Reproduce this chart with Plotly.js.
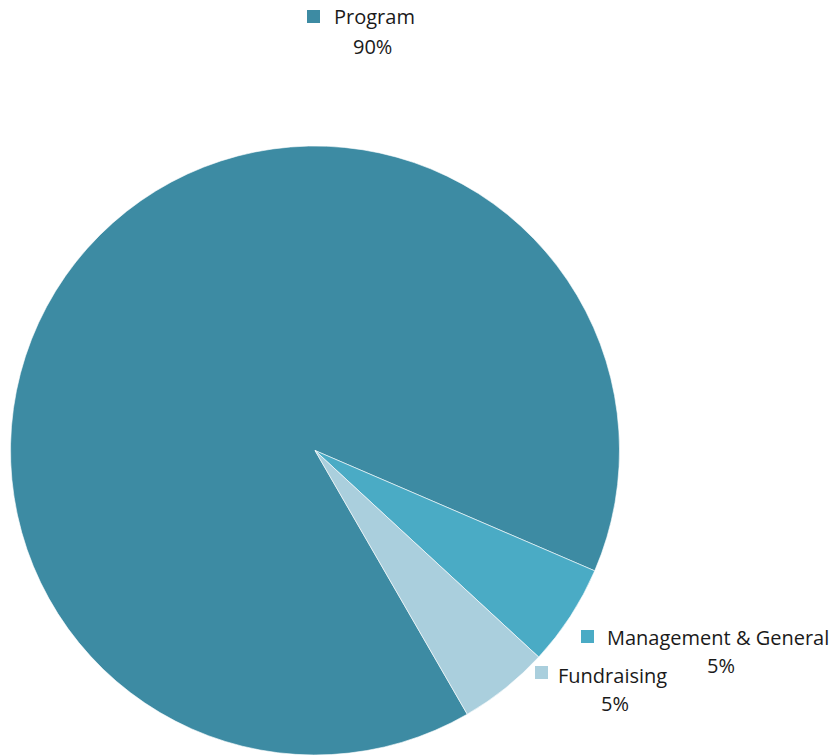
<!DOCTYPE html>
<html>
<head>
<meta charset="utf-8">
<script src="https://cdn.plot.ly/plotly-3.0.1.min.js"></script>
<style>html,body{margin:0;padding:0;background:#fff;}#chart{width:840px;height:755px;}</style>
</head>
<body>
<div id="chart"></div>
<script>
const categories = ["Program", "Management & General", "Fundraising"];
const values = [89.8, 5.4, 4.8];
const sliceColors = ["#3D8BA3", "#4AABC5", "#AACFDD"];

const W = 840, H = 755;
const px = x => x / W;
const py = y => 1 - y / H;

// label placement (pixels): square left/top, name start x, name center y, percent center x/y
const labelPos = [
  {sq: [307, 10], nx: 332, ny: 17, pcx: 372, pcy: 46},
  {sq: [581, 630], nx: 605, ny: 637, pcx: 721, pcy: 665},
  {sq: [535, 666], nx: 556, ny: 675, pcx: 615, pcy: 703}
];

const total = values.reduce((a, b) => a + b, 0);
const font = {family: "Open Sans, Lato, sans-serif", size: 20, color: "#1a1a1a"};

const annotations = [];
const shapes = [];
categories.forEach((c, i) => {
  const p = labelPos[i];
  shapes.push({type: "rect", xref: "paper", yref: "paper",
    x0: px(p.sq[0]), x1: px(p.sq[0] + 13), y0: py(p.sq[1] + 13), y1: py(p.sq[1]),
    fillcolor: sliceColors[i], line: {width: 0}});
  annotations.push({xref: "paper", yref: "paper", x: px(p.nx), y: py(p.ny),
    xanchor: "left", yanchor: "middle", showarrow: false, text: c, font: font});
  annotations.push({xref: "paper", yref: "paper", x: px(p.pcx), y: py(p.pcy),
    xanchor: "center", yanchor: "middle", showarrow: false,
    text: Math.round(values[i] / total * 100) + "%", font: font});
});

const trace = {
  type: "pie",
  labels: categories,
  values: values,
  sort: false,
  direction: "clockwise",
  rotation: 150,
  textinfo: "none",
  hoverinfo: "label+percent",
  marker: {colors: sliceColors, line: {color: "#ffffff", width: 0.6}},
  domain: {x: [px(10), px(620)], y: [py(756), py(146)]}
};

const layout = {
  width: W, height: H,
  margin: {l: 0, r: 0, t: 0, b: 0},
  showlegend: false,
  paper_bgcolor: "#ffffff",
  annotations: annotations,
  shapes: shapes
};

Plotly.newPlot("chart", [trace], layout, {displayModeBar: false, staticPlot: true});
</script>
</body>
</html>
